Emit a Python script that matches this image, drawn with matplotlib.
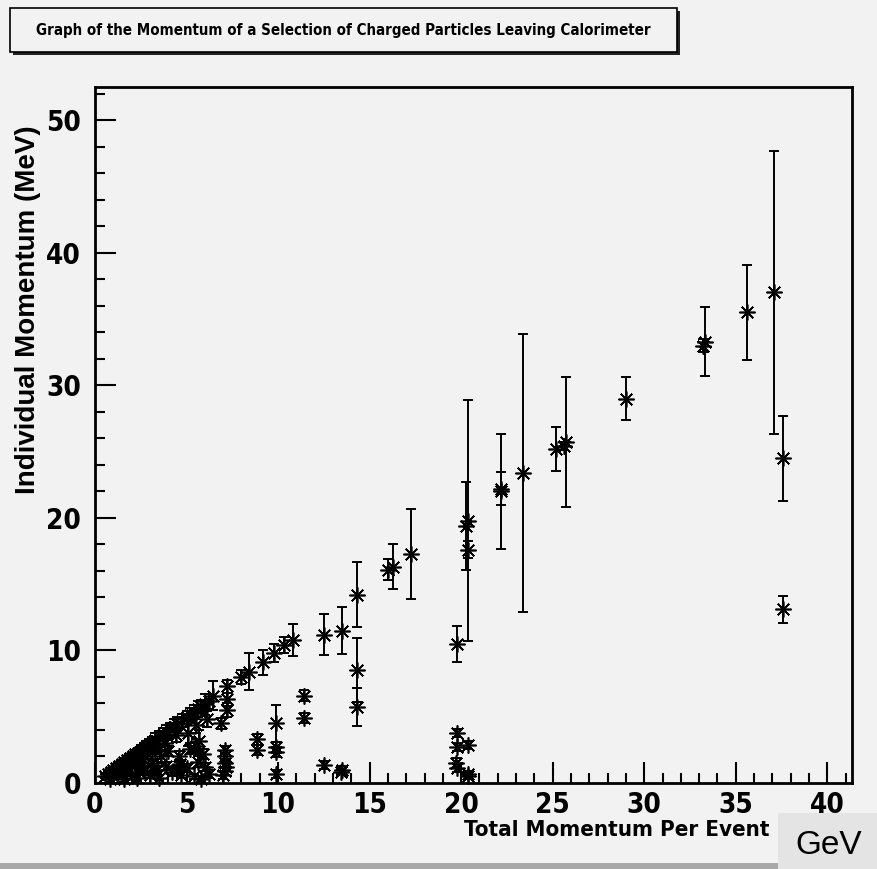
import matplotlib
matplotlib.use('Agg')
import matplotlib.pyplot as plt
from matplotlib.patches import Rectangle
from matplotlib.ticker import MultipleLocator

# points: total momentum (GeV), individual momentum, error
x_hi = [37.1, 35.6, 33.3, 33.2, 37.6, 37.6, 29.0, 23.4, 25.2, 25.75, 25.6,
        22.2, 22.2, 20.35, 20.25, 20.35, 19.75, 17.25, 16.3, 16.0, 14.3, 14.3,
        14.3, 13.5, 12.5]
y_hi = [37.0, 35.5, 33.3, 33.0, 24.5, 13.1, 29.0, 23.4, 25.2, 25.7, 25.4,
        22.2, 22.0, 19.8, 19.4, 17.6, 10.5, 17.3, 16.3, 16.1, 14.2, 8.5,
        5.75, 11.5, 11.2]
e_hi = [10.7, 3.6, 2.6, 0.5, 3.2, 1.0, 1.6, 10.5, 1.65, 4.9, 0.3,
        1.25, 4.35, 9.1, 3.3, 0.65, 1.35, 3.4, 1.7, 0.8, 2.45, 2.4,
        1.45, 1.75, 1.55]

x_mid = [12.5, 13.5, 13.45, 19.75, 19.75, 19.7, 19.75, 20.4, 20.4, 20.35,
         11.4, 11.4, 9.15, 9.8, 10.35, 10.8, 9.9, 9.9, 9.9, 9.9, 8.87, 8.87,
         8.0, 8.4, 7.2, 7.2, 7.2, 6.9, 7.1, 7.1, 7.1, 7.15, 7.1, 7.0]
y_mid = [1.35, 1.0, 0.85, 3.8, 2.7, 1.5, 1.1, 2.85, 0.7, 0.5,
         6.6, 4.9, 9.1, 9.8, 10.4, 10.8, 4.5, 2.7, 2.35, 0.7, 3.3, 2.5,
         8.0, 8.4, 7.3, 6.3, 5.5, 4.5, 2.5, 2.0, 1.5, 1.2, 0.9, 0.6]
e_mid = [0.3, 0.3, 0.2, 0.3, 0.3, 0.4, 0.3, 0.3, 0.2, 0.2,
         0.45, 0.35, 0.95, 0.7, 0.6, 1.2, 1.4, 0.4, 0.4, 0.3, 0.4, 0.4,
         0.5, 1.4, 0.5, 0.5, 0.5, 0.4, 0.3, 0.3, 0.3, 0.3, 0.3, 0.3]

# dense cluster near the origin
x_lo = [0.55, 0.7, 0.85, 1.0, 1.15, 1.3, 1.45, 1.6, 1.75, 1.9, 2.05, 2.2,
        2.35, 2.5, 2.65, 2.8, 2.95, 3.1, 3.3, 3.5, 3.7, 3.9, 4.1, 4.3, 4.5,
        4.75, 5.0, 5.2, 5.4, 5.6, 5.8, 6.0, 6.2, 6.45,
        1.2, 1.5, 1.8, 2.0, 2.2, 2.4, 2.6, 2.7, 2.9, 3.0, 3.1, 3.3, 3.4, 3.5,
        3.6, 3.8, 3.9, 4.0, 4.2, 4.4, 4.6, 4.65, 4.7, 5.0, 5.1, 5.2, 5.4,
        5.5, 5.6, 5.7, 5.8, 5.9, 6.0, 6.1, 6.2, 5.5, 4.5, 3.2, 2.3, 1.6,
        0.8, 1.0]
y_lo = [0.5, 0.65, 0.8, 0.95, 1.1, 1.25, 1.4, 1.55, 1.7, 1.85, 2.0, 2.15,
        2.3, 2.45, 2.6, 2.75, 2.9, 3.05, 3.25, 3.45, 3.65, 3.85, 4.05, 4.25,
        4.45, 4.7, 4.95, 5.15, 5.35, 5.55, 5.75, 5.95, 6.15, 6.6,
        0.6, 0.9, 1.1, 0.5, 1.4, 0.8, 1.8, 1.0, 2.2, 0.6, 1.5, 2.6, 1.0, 0.4,
        2.0, 3.0, 1.3, 2.4, 0.8, 3.6, 2.0, 1.4, 0.6, 1.1, 3.8, 2.6, 0.5,
        4.4, 1.6, 3.2, 0.3, 2.2, 1.2, 4.8, 0.7, 2.8, 1.0, 0.9, 0.4, 0.3,
        0.3, 0.5]
e_lo = [0.15, 0.15, 0.2, 0.2, 0.2, 0.25, 0.25, 0.3, 0.3, 0.3, 0.35, 0.35,
        0.35, 0.4, 0.4, 0.4, 0.45, 0.45, 0.5, 0.5, 0.5, 0.5, 0.5, 0.6, 0.5,
        0.5, 0.5, 0.5, 0.5, 0.6, 0.5, 0.8, 0.6, 1.1,
        0.2, 0.2, 0.3, 0.2, 0.3, 0.2, 0.3, 0.3, 0.4, 0.2, 0.3, 0.4, 0.3, 0.2,
        0.4, 0.5, 0.3, 0.4, 0.3, 0.5, 0.4, 0.3, 0.2, 0.3, 1.0, 0.4, 0.2,
        0.6, 0.4, 0.8, 0.2, 0.4, 0.3, 0.6, 0.3, 0.5, 0.3, 0.3, 0.2, 0.2,
        0.2, 0.2]

xs = x_hi + x_mid + x_lo
ys = y_hi + y_mid + y_lo
es = e_hi + e_mid + e_lo

xticks = [0, 5, 10, 15, 20, 25, 30, 35, 40]
yticks = [0, 10, 20, 30, 40, 50]

bg = '#f2f2f2'
narrow = ['Liberation Sans Narrow', 'DejaVu Sans']

fig = plt.figure(figsize=(8.78, 8.69), dpi=100, facecolor=bg)
ax = fig.add_axes([95/878, 86/869, 757/878, 696/869], facecolor=bg)

ax.errorbar(xs, ys, yerr=es, fmt='none', ecolor='black', elinewidth=1.4,
            capsize=3.5, capthick=1.4, zorder=2)
ax.plot(xs, ys, linestyle='none', marker=(8, 2, 0), markersize=11.5,
        markeredgewidth=1.2, color='black', zorder=3, clip_on=False)

ax.set_xlim(0, 41.35)
ax.set_ylim(0, 52.5)
ax.set_xticks(xticks)
ax.set_yticks(yticks)
ax.xaxis.set_minor_locator(MultipleLocator(1))
ax.yaxis.set_minor_locator(MultipleLocator(2))
ax.tick_params(which='major', direction='in', length=15, width=1.5,
               top=False, right=False)
ax.tick_params(which='minor', direction='in', length=7, width=1.5,
               top=False, right=False)
ax.tick_params(axis='x', pad=6)
ax.tick_params(axis='y', pad=10)
for lab in ax.get_xticklabels() + ax.get_yticklabels():
    lab.set_family(narrow)
    lab.set_fontweight('bold')
    lab.set_fontsize(20)
    lab.set_fontstretch('condensed')
for s in ax.spines.values():
    s.set_linewidth(2)

fig.text(770/878, 1 - 830/869, 'Total Momentum Per Event', family=narrow,
         fontweight='bold', fontsize=16, fontstretch='condensed',
         ha='right', va='center')
fig.text(28/878, 1 - 310/869, 'Individual Momentum (MeV)',
         family=['Liberation Sans', 'DejaVu Sans'], fontweight='bold',
         fontsize=20, rotation=90, ha='center', va='center')

# title box with shadow
fig.patches.append(Rectangle((13/878, 1 - 55/869), 667/878, 44/869,
                             transform=fig.transFigure, facecolor='#222222',
                             edgecolor='none', zorder=1))
fig.patches.append(Rectangle((10/878, 1 - 52/869), 667/878, 44/869,
                             transform=fig.transFigure, facecolor=bg,
                             edgecolor='black', linewidth=1.2, zorder=2))
fig.text(343/878, 1 - 30/869,
         'Graph of the Momentum of a Selection of Charged Particles Leaving Calorimeter',
         family=narrow, fontweight='bold', fontsize=10.8, fontstretch='condensed',
         ha='center', va='center', zorder=3)

# bottom strip and GeV box
fig.patches.append(Rectangle((0, 0), 778/878, 6/869, transform=fig.transFigure,
                             facecolor='#a8a8a8', edgecolor='none'))
fig.patches.append(Rectangle((778/878, 0), 100/878, 56/869,
                             transform=fig.transFigure, facecolor='#e4e4e4',
                             edgecolor='none'))
fig.text(829/878, 1 - 846/869, 'GeV', family=['Liberation Sans', 'DejaVu Sans'],
         fontsize=24, ha='center', va='center')

fig.savefig('out.png', dpi=100, facecolor=bg)
